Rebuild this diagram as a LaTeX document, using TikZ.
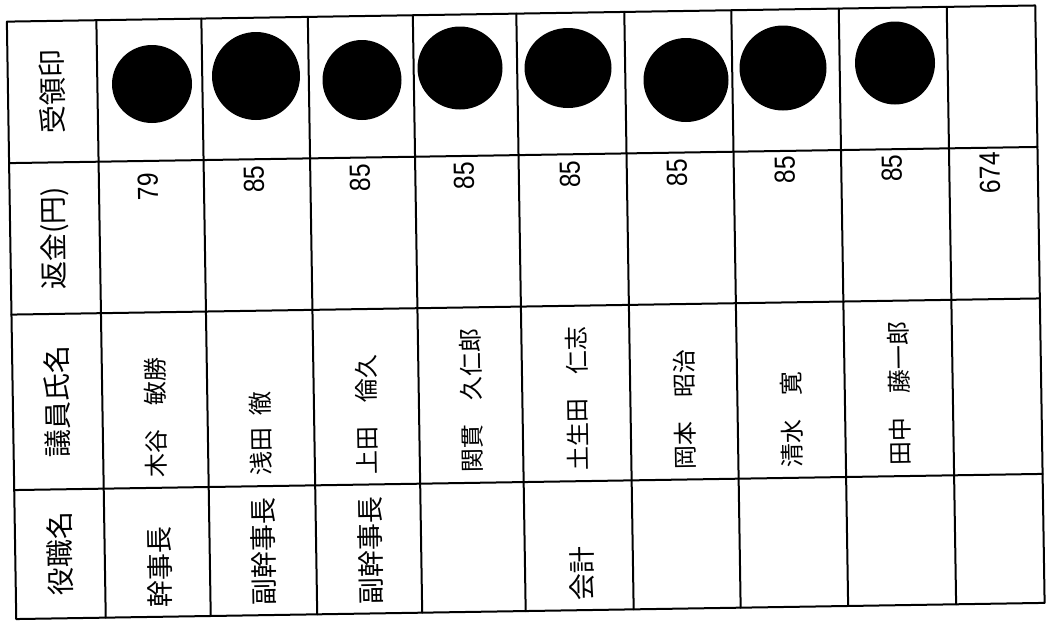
\documentclass[tikz,border=0pt]{standalone}
\usepackage{fontspec}
\setmainfont{Noto Sans CJK JP}
\newfontfamily\digitfont{Liberation Sans}
\begin{document}
\begin{tikzpicture}[x=1pt,y=-1pt,
  gridline/.style={line width=2pt, line cap=round, line join=round},
  stamp/.style={fill=black},
  hdr/.style={font=\fontsize{28}{28}\selectfont, inner sep=0pt, rotate=90},
  num/.style={font=\digitfont\fontsize{29}{29}\selectfont, inner sep=0pt, rotate=90},
  pname/.style={font=\fontsize{24}{24}\selectfont, inner sep=0pt, rotate=90, anchor=west},
  prole/.style={font=\fontsize{27}{27}\selectfont, inner sep=0pt, rotate=90, anchor=west}]
\useasboundingbox[fill=white] (0,0) rectangle (1046,625);

% receipt stamps
\fill[stamp] (152,84) ellipse [x radius=40pt, y radius=39pt];
\fill[stamp] (256,76) ellipse [x radius=44pt, y radius=44pt];
\fill[stamp] (362,80) ellipse [x radius=39.5pt, y radius=40pt];
\fill[stamp] (460,68) ellipse [x radius=42.5pt, y radius=41.5pt];
\fill[stamp] (568,68) ellipse [x radius=43.5pt, y radius=40pt];
\fill[stamp] (686,80) ellipse [x radius=42.5pt, y radius=42pt];
\fill[stamp] (783,68) ellipse [x radius=43.5pt, y radius=42.5pt];
\fill[stamp] (895,63) ellipse [x radius=40pt, y radius=41.5pt];

\begin{scope}[rotate around={0.9:(526,313)}, transform shape]
  % grid
  \draw[gridline] (11.5,13.5) rectangle (1040,611);
  \foreach \yy in {155,306.5,482}
    \draw[gridline] (11.5,\yy) -- (1040,\yy);
  \foreach \xx in {101,206,312.5,417.5,521,629,736,843.5,951.5}
    \draw[gridline] (\xx,13.5) -- (\xx,611);

  % header column
  \node[hdr] (h1) at (56,84) {受領印};
  \node[hdr] (h2) at (56,231) {返金(円)};
  \node[hdr] (h3) at (56,394) {議員氏名};
  \node[hdr] (h4) at (56,546) {役職名};

  % refunds
  \node[num] (n1) at (150,181) {\scalebox{0.85}[1]{79}};
  \node[num] (n2) at (256,175) {\scalebox{0.85}[1]{85}};
  \node[num] (n3) at (362,175) {\scalebox{0.85}[1]{85}};
  \node[num] (n4) at (466,175) {\scalebox{0.85}[1]{85}};
  \node[num] (n5) at (572,175) {\scalebox{0.85}[1]{85}};
  \node[num] (n6) at (679,175) {\scalebox{0.85}[1]{85}};
  \node[num] (n7) at (787,174) {\scalebox{0.85}[1]{85}};
  \node[num] (n8) at (894,174) {\scalebox{0.85}[1]{85}};
  \node[num] (n9) at (992,180) {\scalebox{0.85}[1]{674}};

  % names
  \node[pname] (p1) at (154,472) {木谷　敏勝};
  \node[pname] (p2) at (259,472) {浅田\hspace{0.5em}徹};
  \node[pname] (p3) at (365,472) {上田　倫久};
  \node[pname] (p4) at (470,472) {関貫　久仁郎};
  \node[pname] (p5) at (576,472) {土生田　仁志};
  \node[pname] (p6) at (683,472) {岡本　昭治};
  \node[pname] (p7) at (790,472) {清水　寛};
  \node[pname] (p8) at (898,472) {田中　藤一郎};

  % roles
  \node[prole] (r1) at (156,602) {幹事長};
  \node[prole] (r2) at (260,602) {副幹事長};
  \node[prole] (r3) at (367,602) {副幹事長};
  \node[prole] (r5) at (578,602) {会計};
\end{scope}
\end{tikzpicture}
\end{document}
